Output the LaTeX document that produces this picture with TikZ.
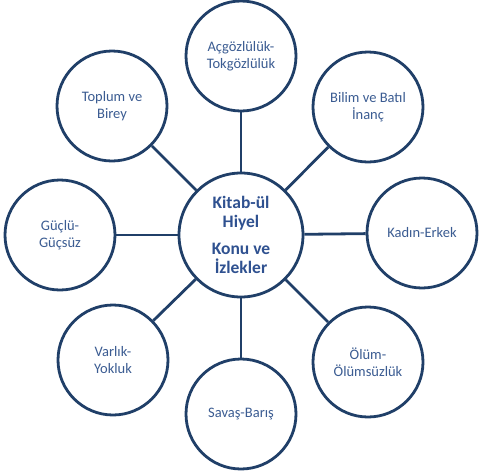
\documentclass[tikz,border=0pt]{standalone}
\usepackage{fontspec}
\setmainfont{Carlito}
\definecolor{lineblue}{HTML}{203F68}
\definecolor{textblue}{HTML}{3B5C92}
\definecolor{centerblue}{HTML}{2F5190}
\begin{document}
\begin{tikzpicture}[x=1pt,y=-1pt,
  outer/.style={circle,draw=lineblue,line width=2.8pt,fill=white,minimum size=110pt,inner sep=0pt,
    align=center,text=textblue,font=\fontsize{14.5}{17}\selectfont},
  hub/.style={circle,draw=lineblue,line width=2.8pt,fill=white,minimum size=124pt,inner sep=0pt,
    align=center,text=centerblue,font=\bfseries\fontsize{17.5}{19.5}\selectfont},
  link/.style={draw=lineblue,line width=2.8pt}]
\useasboundingbox (0,0) rectangle (480,472);
\node[hub] (c) at (241,235) {Kitab-ül\\Hiyel\\[7pt]Konu ve\\İzlekler};
\node[outer] (n)  at (241,56)  {Açgözlülük-\\Tokgözlülük};
\node[outer] (ne) at (368,107) {Bilim ve Batıl\\İnanç};
\node[outer] (e)  at (422,233) {Kadın-Erkek};
\node[outer] (se) at (368,362) {Ölüm-\\Ölümsüzlük};
\node[outer] (s)  at (241,414) {Savaş-Barış};
\node[outer] (sw) at (113,360) {Varlık-\\Yokluk};
\node[outer] (w)  at (60,235)  {Güçlü-\\Güçsüz};
\node[outer] (nw) at (112,106) {Toplum ve\\Birey};
\foreach \o in {n,ne,e,se,s,sw,w,nw}
  \draw[link] (c) -- (\o);
\end{tikzpicture}
\end{document}
